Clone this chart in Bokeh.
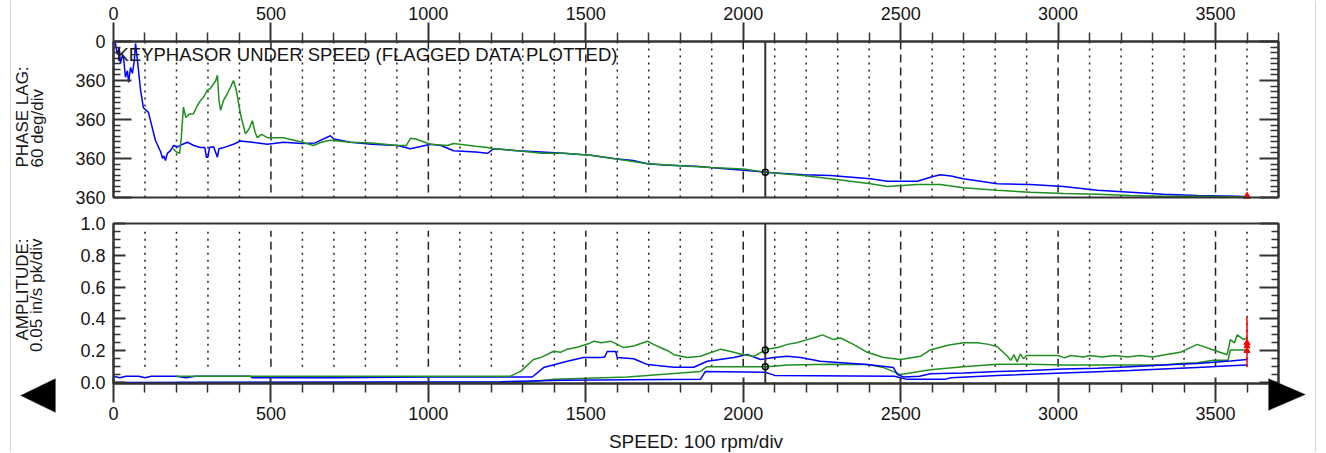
import math
from bokeh.plotting import figure
from bokeh.models import (Range1d, LinearAxis, Label, FixedTicker, PrintfTickFormatter,
                          PolyAnnotation, Span)
from bokeh.embed import file_html
from bokeh.resources import INLINE

FONT = "Liberation Sans"
TXT = "#151515"
AX = "#333333"
BLUE = "#0000ff"
GREEN = "#1f8f1f"

# ---------------- data ----------------
speed_ticks = [0, 500, 1000, 1500, 2000, 2500, 3000, 3500]
speed_minor = [s for s in range(0, 3701, 100) if s % 500]
speed_max = 3700
phase_ticks = [0, 60, 120, 180, 240]
phase_labels = ["0", "360", "360", "360", "360"]
phase_minor = [i * 60 / 7 for i in range(0, 29) if i % 7]
phase_max = 240
amp_ticks = [0.0, 0.2, 0.4, 0.6, 0.8, 1.0]
amp_minor = [i * 0.05 for i in range(0, 21) if i % 4]
amp_min, amp_max = -0.006, 1.0

# phase lag (top panel), blue
pb_speed = [0, 6, 12, 18, 22, 28, 32, 38, 44, 48, 54, 60, 66, 70, 76, 86, 95, 111, 133, 150,
            156, 160, 165, 171, 181, 191, 203, 220, 235, 255, 276, 290, 295, 300, 305, 318, 330, 335, 345, 381,
            403, 440, 489, 540, 600, 640, 689, 700, 753, 820, 902, 943, 1007, 1040, 1080, 1150, 1188, 1207, 1283, 1360,
            1429, 1515, 1588, 1650, 1696, 1750, 1801, 1850, 1896, 1950, 2001, 2070, 2130, 2191, 2277, 2404, 2458, 2553, 2600, 2626,
            2660, 2699, 2807, 2912, 3017, 3125, 3230, 3334, 3442, 3570, 3600]
pb_val = [1, 2, 20, 10, 34, 22, 25, 55, 45, 63, 40, 49, 30, 3, 29, 75, 102, 109, 152, 170,
          180, 176, 183, 172, 168, 160, 162, 158, 155, 160, 163, 163, 178, 178, 163, 162, 178, 165, 164, 158,
          153, 155, 158, 155, 157, 156, 145, 150, 155, 158, 160, 165, 158, 160, 168, 170, 172, 165, 168, 170,
          172, 175, 180, 183, 188, 190, 191, 192, 194, 196, 198, 201, 203, 205, 206, 211, 215, 215, 208, 205,
          207, 211, 219, 220, 223, 229, 232, 235, 237, 238, 239]

# phase lag (top panel), green
pg_speed = [190, 200, 210, 215, 222, 230, 240, 254, 265, 276, 287, 298, 308, 318, 325, 330, 335, 340, 350, 362,
            372, 381, 390, 394, 403, 410, 419, 430, 441, 450, 457, 470, 489, 540, 600, 635, 660, 689, 753, 820,
            902, 930, 943, 960, 1007, 1060, 1080, 1150, 1188, 1207, 1283, 1360, 1429, 1515, 1588, 1696, 1801, 1896, 2001, 2070,
            2191, 2277, 2404, 2458, 2553, 2626, 2699, 2807, 2912, 3017, 3125, 3230, 3334, 3442, 3570, 3600]
pg_val = [165, 170, 172, 150, 101, 117, 112, 111, 100, 91, 85, 75, 72, 65, 60, 52, 90, 106, 90, 80,
          70, 60, 75, 86, 111, 125, 142, 135, 122, 140, 148, 143, 148, 148, 155, 160, 155, 152, 155, 156,
          160, 160, 149, 150, 158, 160, 157, 161, 163, 165, 168, 172, 172, 175, 180, 188, 191, 194, 196, 201,
          206, 211, 219, 223, 220, 220, 225, 229, 232, 234, 235, 237, 238, 238, 239, 239]

# amplitude (bottom panel): blue, upper trace
ab1_speed = [0, 20, 40, 80, 100, 120, 200, 230, 260, 435, 440, 700, 1000, 1330, 1366, 1441, 1493, 1547, 1560, 1568,
             1595, 1600, 1652, 1696, 1780, 1843, 1886, 1970, 2013, 2055, 2097, 2140, 2182, 2245, 2394, 2477, 2490, 2510, 2560, 2594,
             2700, 2807, 2912, 3017, 3125, 3230, 3334, 3442, 3547, 3600]
ab1_val = [0.04, 0.03, 0.04, 0.04, 0.03, 0.04, 0.04, 0.03, 0.04, 0.04, 0.03, 0.03, 0.035, 0.035, 0.094, 0.134, 0.157, 0.157, 0.16, 0.195,
           0.195, 0.157, 0.15, 0.113, 0.096, 0.096, 0.134, 0.157, 0.176, 0.145, 0.157, 0.165, 0.157, 0.134, 0.113, 0.094, 0.05, 0.035, 0.04, 0.055,
           0.06, 0.07, 0.075, 0.085, 0.09, 0.1, 0.11, 0.12, 0.135, 0.145]
# blue, lower trace
ab2_speed = [0, 1230, 1430, 1864, 1880, 2070, 2100, 2480, 2520, 2640, 2660, 2807, 3017, 3230, 3334, 3442, 3547, 3600]
ab2_val = [0.0, 0.005, 0.015, 0.02, 0.07, 0.065, 0.045, 0.04, 0.02, 0.02, 0.03, 0.045, 0.06, 0.075, 0.085, 0.095, 0.105, 0.11]
# green, upper trace
ag1_speed = [200, 1260, 1293, 1334, 1360, 1398, 1420, 1441, 1470, 1493, 1510, 1525, 1550, 1579, 1600, 1620, 1652, 1675, 1696, 1715,
             1737, 1760, 1780, 1822, 1864, 1900, 1928, 1950, 1970, 2000, 2033, 2076, 2110, 2140, 2170, 2203, 2230, 2251, 2287, 2309,
             2350, 2394, 2446, 2500, 2563, 2594, 2650, 2699, 2744, 2780, 2807, 2839, 2850, 2860, 2870, 2880, 2890, 2900, 2930, 2966,
             3000, 3020, 3040, 3080, 3100, 3140, 3180, 3220, 3260, 3300, 3340, 3388, 3442, 3493, 3537, 3547, 3560, 3569, 3589, 3600]
ag1_val = [0.04, 0.04, 0.07, 0.145, 0.16, 0.197, 0.19, 0.21, 0.22, 0.235, 0.245, 0.26, 0.25, 0.26, 0.24, 0.22, 0.23, 0.245, 0.26, 0.24,
           0.22, 0.2, 0.175, 0.157, 0.165, 0.19, 0.21, 0.2, 0.19, 0.175, 0.165, 0.21, 0.22, 0.24, 0.25, 0.27, 0.285, 0.30, 0.27, 0.28,
           0.24, 0.19, 0.157, 0.145, 0.165, 0.205, 0.235, 0.25, 0.25, 0.24, 0.225, 0.165, 0.14, 0.175, 0.13, 0.18, 0.15, 0.17, 0.17, 0.17,
           0.17, 0.155, 0.17, 0.16, 0.17, 0.16, 0.17, 0.16, 0.17, 0.16, 0.175, 0.19, 0.24, 0.205, 0.175, 0.27, 0.25, 0.30, 0.27, 0.28]
# green, lower trace
ag2_speed = [200, 1300, 1400, 1632, 1864, 1885, 2076, 2140, 2277, 2394, 2446, 2500, 2594, 2699, 2807, 2912, 3017, 3334, 3388, 3442,
             3493, 3540, 3547, 3600]
ag2_val = [0.0, 0.0, 0.02, 0.035, 0.07, 0.1, 0.1, 0.11, 0.115, 0.113, 0.094, 0.05, 0.08, 0.1, 0.115, 0.115, 0.11, 0.11, 0.12, 0.125,
           0.14, 0.14, 0.205, 0.205]

red_speed = [3600]
red_amp_lo = [0.10]
red_amp_hi = [0.41]
red_amp_pts = [0.2, 0.23, 0.25]
red_phase = [238]

cursor_speed = 2070
cursor_phase = [201]
cursor_amp = [0.205, 0.1]

title_text = "KEYPHASOR UNDER SPEED (FLAGGED DATA PLOTTED)"

# ---------------- layout geometry (pixels) ----------------
W, H = 1324, 452
PX_L, PX_R = 113, 1278          # plot boxes, left/right
PY_T1, PY_B1 = 41, 197          # phase box top/bottom
PY_T2, PY_B2 = 223, 383         # amplitude box top/bottom

kx = speed_max / (PX_R - PX_L)
kp = phase_max / (PY_B1 - PY_T1)
ka = (amp_max - amp_min) / (PY_B2 - PY_T2)


def sx(px):
    return (px - PX_L) * kx


def sp(py):
    return (py - PY_T1) * kp


def sa(py):
    return amp_max - (py - PY_T2) * ka


p = figure(width=W, height=H, x_range=Range1d(sx(0), sx(W)), y_range=Range1d(sp(H), sp(0)),
           x_axis_type=None, y_axis_type=None, output_backend="svg", toolbar_location=None,
           min_border=0, min_border_left=0, min_border_right=0, min_border_top=0, min_border_bottom=0)
p.extra_y_ranges = {"amp": Range1d(sa(H), sa(0))}
p.background_fill_color = "white"
p.border_fill_color = "white"
p.outline_line_color = None


def style_axis(ax, size="18px"):
    ax.axis_line_color = AX
    ax.axis_line_width = 2
    ax.major_tick_line_color = AX
    ax.major_tick_line_width = 2
    ax.minor_tick_line_color = AX
    ax.minor_tick_line_width = 1.5
    ax.major_label_text_font = FONT
    ax.major_label_text_font_size = size
    ax.major_label_text_color = TXT


def label(text, px, py, size, angle=0.0, align="left", baseline="middle", font=FONT, color=TXT):
    p.add_layout(Label(x=px, y=H - py, x_units="screen", y_units="screen", text=text, angle=angle,
                       text_align=align, text_baseline=baseline, text_font=font,
                       text_font_size=size, text_color=color))


xt = FixedTicker(ticks=speed_ticks, minor_ticks=speed_minor)
yt1 = FixedTicker(ticks=phase_ticks, minor_ticks=phase_minor)
yt2 = FixedTicker(ticks=amp_ticks, minor_ticks=amp_minor)

# ---- grid (drawn first) ----
n_maj, n_min = len(speed_ticks), len(speed_minor)
p.segment(x0=speed_ticks, y0=[0] * n_maj, x1=speed_ticks, y1=[phase_max] * n_maj,
          line_color="#222222", line_width=1.5, line_dash="8 5")
p.segment(x0=speed_minor, y0=[0] * n_min, x1=speed_minor, y1=[phase_max] * n_min,
          line_color="#222222", line_width=1.5, line_dash="2 5")
p.segment(x0=speed_ticks, y0=[0.1] * n_maj, x1=speed_ticks, y1=[0.955] * n_maj,
          line_color="#222222", line_width=1.5, line_dash="8 5", y_range_name="amp")
p.segment(x0=speed_minor, y0=[0.1] * n_min, x1=speed_minor, y1=[0.955] * n_min,
          line_color="#222222", line_width=1.5, line_dash="2 5", y_range_name="amp")

# ---- data lines ----
p.line(pb_speed, pb_val, line_color=BLUE, line_width=1.5)
p.line(pg_speed, pg_val, line_color=GREEN, line_width=1.5)

p.line(ag2_speed, ag2_val, line_color=GREEN, line_width=1.5, y_range_name="amp")
p.line(ab2_speed, ab2_val, line_color=BLUE, line_width=1.5, y_range_name="amp")
p.line(ab1_speed, ab1_val, line_color=BLUE, line_width=1.5, y_range_name="amp")
p.line(ag1_speed, ag1_val, line_color=GREEN, line_width=1.5, y_range_name="amp")

p.segment(x0=red_speed, y0=red_amp_lo, x1=red_speed, y1=red_amp_hi, line_color="red", line_width=1.5,
          y_range_name="amp")
p.scatter(red_speed * len(red_amp_pts), red_amp_pts, marker="triangle", size=6, fill_color="red",
          line_color="red", y_range_name="amp")
p.scatter(red_speed, red_phase, marker="triangle", size=7, fill_color="red", line_color="red")

# ---- cursor ----
p.segment(x0=[cursor_speed], y0=[0], x1=[cursor_speed], y1=[phase_max], line_color=AX, line_width=2)
p.segment(x0=[cursor_speed], y0=[amp_min], x1=[cursor_speed], y1=[amp_max], line_color=AX, line_width=2,
          y_range_name="amp")
p.scatter([cursor_speed] * len(cursor_phase), cursor_phase, marker="circle", size=6,
          fill_color=None, line_color="black", line_width=1.5)
p.scatter([cursor_speed] * len(cursor_amp), cursor_amp, marker="circle", size=6,
          fill_color=None, line_color="black", line_width=1.5, y_range_name="amp")

# ---- boxes ----
p.quad(left=[0], right=[speed_max], top=[0], bottom=[phase_max], fill_color=None, line_color=AX, line_width=2)
p.quad(left=[0], right=[speed_max], top=[amp_max], bottom=[amp_min], fill_color=None, line_color=AX,
       line_width=2, y_range_name="amp")

# ---- axes ----
ax_top = LinearAxis(ticker=xt, fixed_location=0, bounds=(0, speed_max))
style_axis(ax_top)
ax_top.major_tick_out, ax_top.major_tick_in = 19, 0
ax_top.minor_tick_out, ax_top.minor_tick_in = 9, 0
ax_top.major_label_standoff = 3
p.add_layout(ax_top, "above")

ax_bot = LinearAxis(ticker=xt, fixed_location=amp_min, y_range_name="amp", bounds=(0, speed_max))
style_axis(ax_bot)
ax_bot.major_tick_out, ax_bot.major_tick_in = 19, 6
ax_bot.minor_tick_out, ax_bot.minor_tick_in = 9, 1
ax_bot.major_label_standoff = 4
p.add_layout(ax_bot, "below")

ay1 = LinearAxis(ticker=yt1, fixed_location=0, bounds=(0, phase_max))
style_axis(ay1)
ay1.major_label_overrides = {t: l for t, l in zip(phase_ticks, phase_labels)}
ay1.major_tick_in, ay1.major_tick_out = 18, 0
ay1.minor_tick_in, ay1.minor_tick_out = 7, 0
ay1.major_label_standoff = 8
p.add_layout(ay1, "left")

ry1 = LinearAxis(ticker=yt1, fixed_location=speed_max, bounds=(0, phase_max))
style_axis(ry1)
ry1.major_label_text_color = None
ry1.major_tick_in, ry1.major_tick_out = 19, 0
ry1.minor_tick_in, ry1.minor_tick_out = 8, 0
p.add_layout(ry1, "right")

ay2 = LinearAxis(ticker=yt2, fixed_location=0, y_range_name="amp", bounds=(amp_min, amp_max))
style_axis(ay2)
ay2.formatter = PrintfTickFormatter(format="%.1f")
ay2.major_tick_in, ay2.major_tick_out = 12, 0
ay2.minor_tick_in, ay2.minor_tick_out = 7, 0
ay2.major_label_standoff = 8
p.add_layout(ay2, "left")

ry2 = LinearAxis(ticker=yt2, fixed_location=speed_max, y_range_name="amp", bounds=(amp_min, amp_max))
style_axis(ry2)
ry2.major_label_text_color = None
ry2.major_tick_in, ry2.major_tick_out = 19, 0
ry2.minor_tick_in, ry2.minor_tick_out = 7, 0
p.add_layout(ry2, "right")

# ---- window frame lines ----
p.add_layout(Span(location=sx(10), dimension="height", line_color="#d4d4d4", line_width=1))
p.add_layout(Span(location=sx(1315), dimension="height", line_color="#d4d4d4", line_width=1))

# ---- texts ----
label(title_text, 116, 54, "18.5px")
label("PHASE LAG:", 22, 167, "17px", angle=math.pi / 2, align="left")
label("60 deg/div", 37, 167, "17px", angle=math.pi / 2, align="left")
label("AMPLITUDE:", 22, 238, "17px", angle=math.pi / 2, align="right")
label("0.05 in/s pk/div", 36, 238, "17px", angle=math.pi / 2, align="right")
label("SPEED: 100 rpm/div", (PX_L + PX_R) / 2, 441, "19px", align="center")

# ---- scroll arrows ----
p.add_layout(PolyAnnotation(xs=[20, 55, 55], ys=[H - 395, H - 378, H - 412], xs_units="screen", ys_units="screen",
                            fill_color="black", fill_alpha=1.0, line_color="#555555", line_width=1))
p.add_layout(PolyAnnotation(xs=[1268, 1268, 1305], ys=[H - 378, H - 410, H - 394], xs_units="screen",
                            ys_units="screen", fill_color="black", fill_alpha=1.0, line_color="#555555", line_width=1))

open("out.html", "w").write(file_html(p, INLINE))
